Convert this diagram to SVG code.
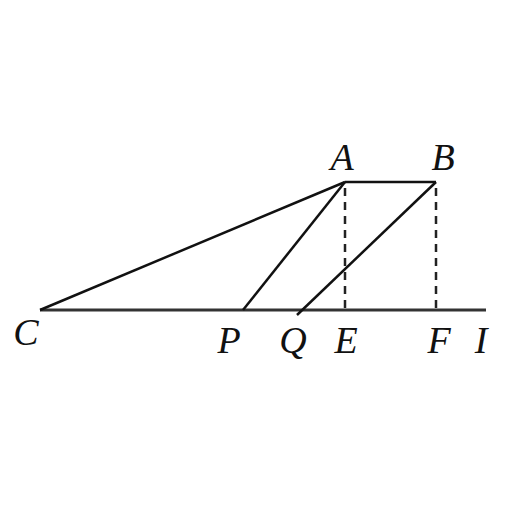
<svg xmlns="http://www.w3.org/2000/svg" width="512" height="512" viewBox="0 0 512 512">
<style>
.ln{stroke:#111;stroke-width:2.5;fill:none}
.base{stroke:#333;stroke-width:3;fill:none}
.dash{stroke:#222;stroke-width:2.5;stroke-dasharray:8,6;fill:none}
.lb{font-family:"Liberation Serif",serif;font-style:italic;font-size:38px;fill:#111;text-anchor:middle}
</style>
<rect width="512" height="512" fill="#fff"/>
<g id="connectors">
<line class="base" x1="40" y1="310" x2="486" y2="310"/>
<line class="ln" x1="40" y1="310" x2="345" y2="182"/>
<line class="ln" x1="345" y1="182" x2="436" y2="182"/>
<line class="ln" x1="243" y1="310" x2="345" y2="182"/>
<line class="ln" x1="297" y1="315" x2="436" y2="182"/>
<line class="dash" x1="345" y1="188" x2="345" y2="310"/>
<line class="dash" x1="436" y1="188" x2="436" y2="310"/>
</g>
<g id="A"><text class="lb" x="342" y="170">A</text></g>
<g id="B"><text class="lb" x="443" y="170">B</text></g>
<g id="C"><text class="lb" x="26" y="345">C</text></g>
<g id="P"><text class="lb" x="229" y="353">P</text></g>
<g id="Q"><text class="lb" x="293" y="353">Q</text></g>
<g id="E"><text class="lb" x="346" y="353">E</text></g>
<g id="F"><text class="lb" x="439" y="353">F</text></g>
<g id="I"><text class="lb" x="481" y="353">I</text></g>
</svg>
